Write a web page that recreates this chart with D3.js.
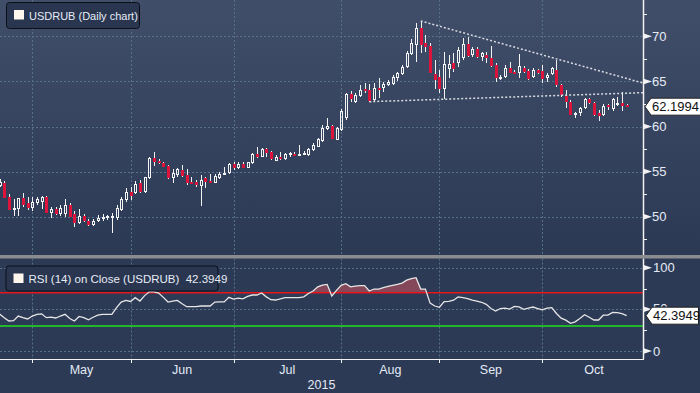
<!DOCTYPE html>
<html><head><meta charset="utf-8">
<script src="https://cdn.jsdelivr.net/npm/d3@7"></script>
<style>html,body{margin:0;padding:0;background:#2c3a55;overflow:hidden}svg{display:block}</style>
</head><body>
<svg id="c" width="700" height="393"></svg>
<script>
// ---------- DATA ----------
const firstDay = new Date(2015, 3, 22);   // Apr 22 2015
const lastDay = new Date(2015, 9, 27);    // Oct 27 2015 (daily bars, weekdays)
const opens = [53.40,53.70,52.15,50.90,50.82,52.10,51.48,50.93,51.48,51.66,52.21,50.44,50.85,50.30,50.30,51.29,50.30,49.26,50.11,49.55,49.08,49.55,49.71,49.82,49.96,49.82,50.74,51.85,
52.77,52.59,53.70,52.70,54.25,56.47,56.20,55.92,55.65,54.25,54.62,55.18,54.62,53.88,53.81,53.40,54.32,53.99,53.77,54.25,54.73,54.81,
55.81,55.36,55.84,55.43,55.92,56.95,56.65,57.47,57.14,56.20,56.65,56.36,56.84,56.95,56.84,56.84,56.84,57.39,57.76,58.44,59.69,60.05,58.50,
59.61,60.91,63.60,62.75,63.38,64.12,64.04,62.93,64.30,64.23,64.60,64.71,65.34,65.82,66.56,68.04,69.03,70.89,69.29,68.92,65.82,
65.45,64.15,66.34,67.00,67.00,67.56,69.14,67.93,68.56,67.74,67.93,67.62,66.82,65.29,65.45,66.45,66.07,65.96,66.45,66.15,65.45,66.26,
66.15,65.34,65.82,66.26,64.60,63.38,62.75,61.27,61.46,62.01,63.01,62.64,61.46,61.27,62.38,61.90,62.38,62.57,62.38];
const highs = [54.14,53.95,52.51,51.96,52.07,52.66,52.21,52.21,52.15,52.29,52.33,51.11,51.04,51.29,51.96,51.48,50.66,50.85,50.26,49.71,49.71,50.15,50.26,50.18,50.37,51.29,52.21,53.14,
53.26,53.99,54.07,54.43,56.65,57.14,56.36,56.03,55.73,55.25,55.43,55.73,55.29,54.36,54.07,54.62,54.43,54.73,54.73,54.92,55.47,55.92,
56.09,56.06,56.06,56.09,57.03,57.69,57.65,57.58,57.32,56.84,57.14,57.03,57.17,57.14,57.95,57.28,57.58,58.13,58.76,60.17,60.91,60.16,59.91,
61.90,63.68,63.97,63.68,64.60,64.79,64.71,64.79,65.34,64.97,65.15,65.71,66.08,66.82,68.40,69.67,71.45,71.70,70.14,69.22,67.37,
66.26,68.29,67.93,68.11,68.85,69.77,69.95,68.78,68.78,68.29,68.29,68.90,67.00,65.73,66.82,67.18,66.26,68.04,66.70,66.34,66.45,66.34,
66.82,65.90,66.63,67.37,64.71,64.04,62.93,61.60,62.19,63.12,63.19,62.75,61.82,62.46,62.49,63.19,63.30,63.86,62.46];
const lows = [53.26,52.10,50.74,50.07,50.07,51.10,50.74,50.66,51.29,50.82,50.37,49.82,50.18,50.07,50.00,49.93,48.89,49.19,49.44,48.97,48.97,49.44,49.52,49.63,48.22,49.63,50.63,51.66,
51.85,52.51,52.66,52.59,54.14,55.62,55.81,55.47,54.18,53.70,54.43,54.43,53.51,53.62,53.33,51.18,53.14,53.70,53.70,54.14,54.62,54.73,
55.18,55.29,55.36,55.36,55.81,56.54,56.58,56.65,56.29,56.17,56.29,56.29,56.58,56.76,56.76,56.84,56.76,57.28,57.69,58.31,59.61,58.58,58.50,
59.53,60.72,62.75,62.64,63.32,63.68,62.75,62.86,63.12,63.86,64.49,64.60,65.08,65.71,66.45,67.93,67.18,68.18,68.29,65.90,64.15,
63.68,63.01,65.34,66.08,66.63,67.37,67.74,67.74,67.56,67.29,67.00,66.63,64.97,65.17,65.34,65.90,65.82,65.34,65.90,65.15,65.34,65.82,
64.80,64.97,65.71,64.41,63.30,62.01,61.27,60.91,61.16,61.90,62.49,61.16,60.64,61.19,61.82,61.75,62.27,61.75,62.12];
const closes = [53.84,52.10,50.74,51.00,52.04,51.29,50.93,51.66,51.93,52.21,50.44,50.82,50.30,51.00,51.29,50.00,49.33,50.07,49.52,49.08,49.55,49.82,50.00,50.07,50.11,50.93,51.93,52.77,
52.33,53.62,52.73,54.36,56.47,56.09,55.92,55.54,54.32,54.88,55.25,54.51,53.70,53.70,53.51,54.07,53.88,53.77,54.51,54.73,54.88,55.81,
55.36,55.81,55.43,56.03,56.92,56.65,57.50,57.09,56.36,56.58,56.36,56.95,57.03,56.84,56.95,57.09,57.47,57.95,58.58,59.80,60.05,58.64,59.80,
61.75,63.60,63.01,63.49,64.04,63.97,62.86,64.23,64.15,64.71,64.97,65.45,65.90,66.63,68.18,69.22,70.89,69.03,68.84,65.90,65.15,
64.15,66.93,66.90,66.34,68.48,69.14,67.81,68.56,67.74,68.11,67.56,66.70,65.34,65.47,66.45,65.96,65.90,66.70,66.00,65.27,66.26,65.90,
65.27,65.73,66.45,64.60,63.49,62.75,61.27,61.53,62.01,63.01,62.57,61.27,61.19,62.27,62.12,63.01,62.57,62.29,62.1994];
const rsi = [44.5,40,36,36.5,42,40,38.5,42,44,44.6,40,40.6,39.6,42,44,39,36,41.5,40,37.5,40.5,43,44,44,44,52,58.8,60.8,
59.5,64,60,66.5,71,71,69.6,64.4,58.8,60,60.8,56.8,53.2,53.2,53.2,54,54,54,58.8,59,59,64.4,
62.4,63.5,62.5,65.5,67.2,67.2,69.6,65,61.6,61.2,62.5,64,64,64,64,65,69,72,77,79.2,80,66,72.8,
78.8,80.8,77,78,78.5,78.4,72,74.4,74.4,76,77.5,78.8,80,81.5,85,87,88,74.4,74.4,57.5,54,
52.5,59.2,59.5,61,65,64,63,61,59.8,58.5,56,51,48,51,51.5,50.4,53.5,53,50,51.5,52.8,51,
49.3,51.5,52,45,39.5,37,33.2,35,39,43.5,40.5,37.2,37.2,43,43,46.4,46,44.8,42.39];
const priceTicks = [50, 55, 60, 65, 70];
const priceMinorTicks = [47.5, 52.5, 57.5, 62.5, 67.5, 72.5];
const rsiTicks = [0, 50, 100];
const rsiMinorTicks = [25, 75];
const rsiOver = 70, rsiUnder = 30;
const yearLabel = "2015";
const lastPrice = 62.1994, lastRsi = 42.3949;
const upperTrend = [[90, 71.7], [137.5, 64.82]];   // [bar index, price]
const lowerTrend = [[79, 62.75], [137.5, 63.75]];
const title1 = "USDRUB (Daily chart)";
const title2 = "RSI (14) on Close (USDRUB)\u00a0 42.3949";

// ---------- LAYOUT ----------
const W = 700, H = 393, plotR = 643;
const mainTop = 0, mainBot = 255, sepH = 3.5, rsiTop = 258.5, rsiBot = 359;
const FONT = "'Liberation Sans', Arial, sans-serif";
const svg = d3.select("#c");

const isWeekday = d => d.getDay() !== 0 && d.getDay() !== 6;
const allDays = d3.timeDay.range(firstDay, new Date(2015, 11, 1)).filter(isWeekday);
const dates = allDays.filter(d => d <= lastDay);
const n = dates.length;

const x = d3.scaleLinear().domain([0, n - 1]).range([-0.46, -0.46 + 4.68 * (n - 1)]);
const y = d3.scaleLinear().domain([50, 70]).range([216.7, 36.3]);
const yr = d3.scaleLinear().domain([0, 100]).range([351, 267.7]);

const monthStarts = [];
allDays.forEach((d, i) => { if (i > 0 && d.getMonth() !== allDays[i - 1].getMonth()) monthStarts.push(i); });
const gridMonths = monthStarts.filter(i => x(i) <= plotR);

const defs = svg.append("defs");
const grad = defs.append("linearGradient").attr("id", "bg").attr("x1", 0).attr("y1", 0).attr("x2", 0).attr("y2", 1);
grad.append("stop").attr("offset", "0%").attr("stop-color", "#414e69");
grad.append("stop").attr("offset", "100%").attr("stop-color", "#2c3954");
defs.append("clipPath").attr("id", "clipMain").append("rect").attr("x", 0).attr("y", mainTop).attr("width", plotR).attr("height", mainBot - mainTop);
defs.append("clipPath").attr("id", "clipRsi").append("rect").attr("x", 0).attr("y", rsiTop).attr("width", plotR).attr("height", rsiBot - rsiTop);
defs.append("clipPath").attr("id", "clipOver").append("rect").attr("x", 0).attr("y", rsiTop).attr("width", plotR).attr("height", yr(rsiOver) - rsiTop);

svg.append("rect").attr("x", 0).attr("y", 0).attr("width", W).attr("height", H).attr("fill", "#2c3a55");
svg.append("rect").attr("x", 0).attr("y", mainTop).attr("width", W).attr("height", mainBot - mainTop).attr("fill", "url(#bg)");
svg.append("rect").attr("x", 0).attr("y", mainBot).attr("width", W).attr("height", sepH).attr("fill", "#8a8c90");

const gridCol = "#557089";
const gMain = svg.append("g");
gMain.selectAll("line.h").data(priceTicks).join("line")
  .attr("x1", 0).attr("x2", plotR).attr("y1", d => Math.round(y(d)) + 0.5).attr("y2", d => Math.round(y(d)) + 0.5)
  .attr("stroke", gridCol).attr("stroke-dasharray", "2,2");
gMain.selectAll("line.v").data(gridMonths).join("line")
  .attr("x1", i => Math.round(x(i)) + 0.5).attr("x2", i => Math.round(x(i)) + 0.5).attr("y1", mainTop).attr("y2", mainBot)
  .attr("stroke", gridCol).attr("stroke-dasharray", "2,2");

const gR = svg.append("g");
gR.selectAll("line.h").data(rsiTicks).join("line")
  .attr("x1", 0).attr("x2", plotR).attr("y1", d => Math.round(yr(d)) + 0.5).attr("y2", d => Math.round(yr(d)) + 0.5)
  .attr("stroke", gridCol).attr("stroke-dasharray", "2,2");
gR.selectAll("line.v").data(gridMonths).join("line")
  .attr("x1", i => Math.round(x(i)) + 0.5).attr("x2", i => Math.round(x(i)) + 0.5).attr("y1", rsiTop).attr("y2", rsiBot)
  .attr("stroke", gridCol).attr("stroke-dasharray", "2,2");

const gc = svg.append("g").attr("clip-path", "url(#clipMain)");
const bars = d3.range(n).map(i => ({ i, o: opens[i], h: highs[i], l: lows[i], c: closes[i] }));
bars.forEach(b => {
  const cx = Math.round(x(b.i));
  const top = Math.round(y(Math.max(b.o, b.c))), bot = Math.round(y(Math.min(b.o, b.c)));
  const hy = Math.round(y(b.h)), ly = Math.round(y(b.l));
  const up = b.c >= b.o;
  if (up) {
    const bt = top, bb = Math.max(bot, top + 2);
    gc.append("line").attr("x1", cx + 0.5).attr("x2", cx + 0.5).attr("y1", hy).attr("y2", bt).attr("stroke", "#f4f4f4");
    gc.append("line").attr("x1", cx + 0.5).attr("x2", cx + 0.5).attr("y1", bb).attr("y2", Math.max(ly, bb)).attr("stroke", "#f4f4f4");
    gc.append("rect").attr("x", cx - 0.5).attr("y", bt + 0.5).attr("width", 2).attr("height", bb - bt - 1)
      .attr("fill", "none").attr("stroke", "#f4f4f4").attr("stroke-width", 1);
  } else {
    gc.append("line").attr("x1", cx + 0.5).attr("x2", cx + 0.5).attr("y1", hy).attr("y2", ly).attr("stroke", "#f0f0f0");
    gc.append("rect").attr("x", cx - 1).attr("y", top).attr("width", 3).attr("height", Math.max(bot - top, 2))
      .attr("fill", "#dc143c");
  }
});

const trendLine = d3.line().x(d => x(d[0])).y(d => y(d[1]));
[upperTrend, lowerTrend].forEach(t => {
  gc.append("path").attr("d", trendLine(t)).attr("fill", "none").attr("stroke", "#d8dbe0")
    .attr("stroke-width", 1.5).attr("stroke-dasharray", "2,2");
});

const gRsi = svg.append("g").attr("clip-path", "url(#clipRsi)");
const area = d3.area().x((d, i) => x(i)).y0(yr(rsiOver)).y1(d => yr(d));
gRsi.append("path").attr("d", area(rsi)).attr("clip-path", "url(#clipOver)").attr("fill", "#8e4a5b").attr("opacity", 0.9);
gRsi.append("line").attr("x1", 0).attr("x2", plotR).attr("y1", yr(rsiOver)).attr("y2", yr(rsiOver)).attr("stroke", "#e8141c").attr("stroke-width", 1.6);
gRsi.append("line").attr("x1", 0).attr("x2", plotR).attr("y1", yr(rsiUnder)).attr("y2", yr(rsiUnder)).attr("stroke", "#1fe01f").attr("stroke-width", 1.6);
const rsiLine = d3.line().x((d, i) => x(i)).y(d => yr(d));
gRsi.append("path").attr("d", rsiLine(rsi)).attr("fill", "none").attr("stroke", "#e6e6e6").attr("stroke-width", 1.3);

const axCol = "#f2f2f2";
svg.append("line").attr("x1", plotR + 0.5).attr("x2", plotR + 0.5).attr("y1", mainTop).attr("y2", mainBot).attr("stroke", axCol).attr("stroke-width", 1.5);
svg.append("line").attr("x1", plotR + 0.5).attr("x2", plotR + 0.5).attr("y1", rsiTop).attr("y2", rsiBot).attr("stroke", axCol).attr("stroke-width", 1.5);
svg.append("line").attr("x1", 0).attr("x2", plotR + 1).attr("y1", rsiBot + 0.5).attr("y2", rsiBot + 0.5).attr("stroke", axCol).attr("stroke-width", 1);

function tri(g, yy) {
  g.append("path").attr("d", `M${plotR},${yy - 3}L${plotR + 9},${yy}L${plotR},${yy + 3}Z`).attr("fill", axCol);
}
const labCol = "#e4ebf5";
priceTicks.forEach(v => {
  tri(svg, y(v));
  svg.append("text").attr("x", 652).attr("y", y(v) + 4.7).attr("fill", labCol).attr("font-family", FONT).attr("font-size", 13).text(v);
});
priceMinorTicks.forEach(v => {
  svg.append("line").attr("x1", plotR).attr("x2", plotR + 4).attr("y1", Math.round(y(v)) + 0.5).attr("y2", Math.round(y(v)) + 0.5).attr("stroke", axCol);
});
rsiTicks.forEach(v => {
  tri(svg, yr(v));
  // the 50 label sits behind the value tag, as in the original; only its top shows
  const t = svg.append("text").attr("x", 653).attr("y", yr(v) + 4.7).attr("fill", labCol).attr("font-family", FONT).attr("font-size", 13).text(v);
  if (v === 50) t.attr("y", yr(v) + 3.5);
});
rsiMinorTicks.forEach(v => {
  svg.append("line").attr("x1", plotR).attr("x2", plotR + 4).attr("y1", Math.round(yr(v)) + 0.5).attr("y2", Math.round(yr(v)) + 0.5).attr("stroke", axCol);
});

svg.selectAll("line.bt").data(gridMonths).join("line")
  .attr("x1", i => Math.round(x(i)) + 0.5).attr("x2", i => Math.round(x(i)) + 0.5).attr("y1", rsiBot).attr("y2", rsiBot + 4).attr("stroke", axCol);
const fmtMonth = d3.timeFormat("%b");
monthStarts.forEach((s, k) => {
  const next = monthStarts[k + 1];
  if (next === undefined) return;
  const cx = (x(s) + x(next)) / 2;
  if (cx > plotR) return;
  svg.append("text").attr("x", cx).attr("y", 374).attr("text-anchor", "middle").attr("fill", labCol)
    .attr("font-family", FONT).attr("font-size", 12.5).text(fmtMonth(allDays[s]));
});
svg.append("text").attr("x", plotR / 2).attr("y", 388.5).attr("text-anchor", "middle").attr("fill", labCol)
  .attr("font-family", FONT).attr("font-size", 12.5).text(yearLabel);

function tag(yy, label, x0, x1) {
  const h = 8.5;
  svg.append("path").attr("d", `M${x0},${yy}L${x0 + 6},${yy - h}L${x1},${yy - h}L${x1},${yy + h}L${x0 + 6},${yy + h}Z`)
    .attr("fill", "#ffffff").attr("stroke", "#222").attr("stroke-width", 1);
  svg.append("text").attr("x", x0 + 7).attr("y", yy + 4.7).attr("fill", "#111").attr("font-family", FONT).attr("font-size", 13).text(label);
}
tag(y(lastPrice), lastPrice.toFixed(4), 645, 702);
tag(yr(lastRsi), lastRsi.toFixed(4), 646, 698.5);

function legend(x0, y0, w, h, text, fs) {
  svg.append("rect").attr("x", x0 + 0.5).attr("y", y0 + 0.5).attr("width", w).attr("height", h).attr("rx", 3)
    .attr("fill", "#2a3650").attr("stroke", "#0b0f18").attr("stroke-width", 1);
  svg.append("rect").attr("x", x0 + 8).attr("y", y0 + 8).attr("width", 10).attr("height", 9.5).attr("fill", "#fff6ee");
  svg.append("text").attr("x", x0 + 23).attr("y", y0 + 17.5).attr("fill", "#e6ecf5").attr("font-family", FONT).attr("font-size", fs).text(text);
}
legend(6, 2, 133, 26, title1, 11);
legend(5.5, 265.5, 212, 25, title2, 11.5);
</script>
</body></html>
